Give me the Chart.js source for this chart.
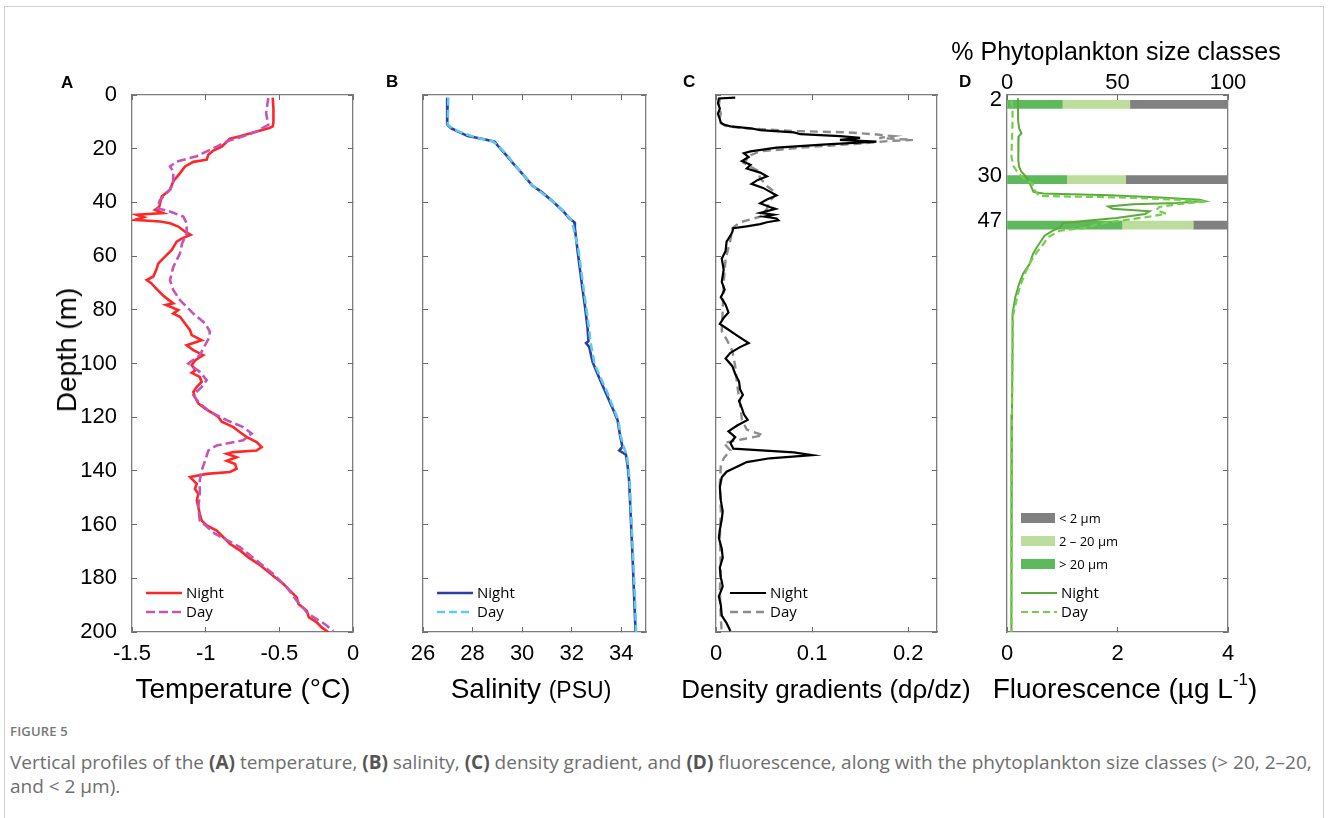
<!DOCTYPE html>
<html>
<head>
<meta charset="utf-8">
<script src="https://cdn.jsdelivr.net/npm/chart.js@4.4.0/dist/chart.umd.min.js"></script>
<style>
  html,body{margin:0;padding:0;background:#fff;}
  body{width:1328px;height:818px;overflow:hidden;position:relative;font-family:"Liberation Sans",Arial,sans-serif;}
  #frame{position:absolute;left:4px;top:6px;width:1318px;height:900px;border:1px solid #d2d2d2;}
  canvas.panel{position:absolute;}
  .t{position:absolute;white-space:nowrap;color:#000;line-height:1;transform:translate(-50%,-50%);font-size:28px;}
  .lab{position:absolute;font-weight:bold;font-size:17px;line-height:1;color:#000;}
  .sup{font-size:17px;position:relative;top:-0.75em;}
  #figlabel{position:absolute;left:10px;top:723px;font-family:"Open Sans",sans-serif;font-size:13px;font-weight:600;line-height:16px;color:#777;letter-spacing:0.2px;}
  #caption{position:absolute;left:10px;top:750px;font-family:"Open Sans",sans-serif;font-size:19px;line-height:24px;color:#6e6e6e;white-space:nowrap;}
  #caption b{color:#555;font-weight:700;}
</style>
</head>
<body>
<div id="frame"></div>
<canvas id="cA" class="panel"></canvas>
<canvas id="cB" class="panel"></canvas>
<canvas id="cC" class="panel"></canvas>
<canvas id="cD" class="panel"></canvas>

<div class="lab" style="left:61px;top:74px">A</div>
<div class="lab" style="left:386px;top:73px">B</div>
<div class="lab" style="left:683px;top:73px">C</div>
<div class="lab" style="left:959px;top:73px">D</div>

<div class="t" style="left:67px;top:350px;transform:translate(-50%,-50%) rotate(-90deg);">Depth (m)</div>
<div class="t" style="left:243px;top:689px;">Temperature (°C)</div>
<div class="t" style="left:531px;top:689px;">Salinity <span style="font-size:23px">(PSU)</span></div>
<div class="t" style="left:826px;top:689px;font-size:26px;">Density gradients (dρ/dz)</div>
<div class="t" style="left:1125px;top:689px;">Fluorescence (µg L<span class="sup">-1</span>)</div>
<div class="t" style="left:1116px;top:51px;font-size:25px;">% Phytoplankton size classes</div>

<div id="figlabel">FIGURE 5</div>
<div id="caption">Vertical profiles of the <b>(A)</b> temperature, <b>(B)</b> salinity, <b>(C)</b> density gradient, and <b>(D)</b> fluorescence, along with the phytoplankton size classes (&gt; 20, 2–20,<br>and &lt; 2 µm).</div>

<script>
// ================= DATA =================
const depthTicks = [0, 20, 40, 60, 80, 100, 120, 140, 160, 180, 200];
const tempTicks  = [-1.5, -1, -0.5, 0];
const salTicks   = [26, 28, 30, 32, 34];
const densTicks  = [0, 0.1, 0.2];
const fluoTicks  = [0, 2, 4];
const pctTicks   = [0, 50, 100];

// (A) Temperature
const tempNightDepth = [1, 5, 10, 11.7, 12.3, 13.6, 15.4, 16.3, 19.2, 20.7,
  22.3, 24.1, 24.9, 26.6, 29.1, 32.2, 35.3, 37.8, 41.6, 42.8,
  44.0, 44.6, 45.5, 46.5, 47.1, 47.8, 49.0, 50.9, 52.1, 53.4,
  54.6, 57.7, 60.2, 62.7, 65.2, 67.6, 68.9, 70.1, 72.6, 75.1,
  77.6, 78.2, 80.1, 81.4, 82.6, 85.1, 87.6, 89.4, 91.3, 93.2,
  95.0, 96.9, 98.8, 100.6, 102.5, 103.5, 105.0, 106.9, 108.7, 110.6,
  112.5, 114.9, 116.8, 118.7, 119.9, 121.7, 123.7, 125.6, 127.4, 129.3,
  131.1, 132.4, 133.0, 133.6, 134.9, 136.2, 137.4, 139.2, 140.4, 141.1,
  142.3, 143.5, 144.8, 146.7, 148.5, 151.0, 153.5, 156.0, 158.5, 160.3,
  162.2, 164.7, 167.2, 169.6, 172.2, 174.6, 177.1, 179.6, 182.1, 184.6,
  187.1, 189.6, 192.1, 194.5, 196.4, 198.3, 200.0];
const tempNight = [-0.545, -0.540, -0.540, -0.545, -0.567, -0.654, -0.767, -0.835, -0.891, -0.948,
  -0.982, -0.993, -1.084, -1.140, -1.174, -1.220, -1.242, -1.298, -1.315, -1.344,
  -1.288, -1.468, -1.420, -1.480, -1.310, -1.242, -1.186, -1.140, -1.102, -1.160,
  -1.197, -1.230, -1.276, -1.321, -1.336, -1.355, -1.400, -1.370, -1.327, -1.280,
  -1.220, -1.270, -1.186, -1.220, -1.174, -1.140, -1.106, -1.095, -1.027, -1.129,
  -1.084, -1.016, -1.070, -1.095, -1.070, -1.095, -1.040, -1.027, -1.060, -1.084,
  -1.073, -1.050, -1.004, -0.948, -0.914, -0.891, -0.812, -0.767, -0.721, -0.654,
  -0.620, -0.654, -0.812, -0.857, -0.790, -0.857, -0.800, -0.790, -0.835, -0.993,
  -1.106, -1.084, -1.060, -1.073, -1.050, -1.060, -1.050, -1.040, -1.027, -0.993,
  -0.925, -0.880, -0.835, -0.767, -0.710, -0.643, -0.586, -0.530, -0.473, -0.428,
  -0.382, -0.370, -0.314, -0.300, -0.246, -0.213, -0.168];
const tempDayDepth = [1.1, 6.7, 11.1, 13.6, 15.4, 17.3, 19.2, 20.7, 22.8, 24.8,
  26.6, 28.5, 32.2, 35.3, 39.1, 42.2, 43.4, 45.3, 47.8, 51.6,
  55.3, 59.0, 64.0, 69.0, 72.6, 76.4, 81.4, 85.1, 88.2, 90.7,
  93.2, 96.9, 100.0, 103.1, 106.2, 108.7, 111.8, 114.9, 118.0, 121.1,
  123.7, 126.1, 128.6, 130.5, 132.4, 136.2, 139.8, 143.5, 148.5, 153.5,
  158.5, 163.4, 168.4, 173.4, 178.4, 183.3, 188.3, 193.3, 197.1, 199.6];
const tempDay = [-0.575, -0.590, -0.575, -0.654, -0.745, -0.857, -0.925, -0.982, -1.061, -1.197,
  -1.242, -1.220, -1.220, -1.242, -1.310, -1.330, -1.242, -1.152, -1.129, -1.129,
  -1.160, -1.174, -1.220, -1.242, -1.220, -1.174, -1.084, -1.004, -0.971, -0.980,
  -1.004, -1.040, -1.118, -1.040, -0.993, -1.027, -1.084, -1.040, -0.971, -0.857,
  -0.745, -0.688, -0.745, -0.925, -0.982, -1.004, -1.027, -1.040, -1.040, -1.050,
  -1.040, -0.937, -0.767, -0.654, -0.541, -0.450, -0.382, -0.303, -0.190, -0.134];

// (B) Salinity
const salNightDepth = [1, 5, 11, 12.4, 13.9, 15.3, 16.4, 17.4, 18.9, 22.4,
  25.3, 29.6, 33.9, 36.0, 39.6, 43.1, 46.0, 47.4, 49.6, 58.1,
  65.3, 72.4, 79.6, 86.7, 91.7, 92.4, 93.9, 99.6, 105.3, 111.0,
  116.7, 121.0, 126.7, 131.0, 132.4, 133.9, 138.1, 143.9, 158.1, 172.4,
  186.7, 200];
const salNight = [27.00, 26.98, 26.97, 27.14, 27.48, 27.81, 28.42, 28.89, 29.02, 29.36,
  29.62, 30.03, 30.43, 30.77, 31.23, 31.64, 31.91, 32.11, 32.13, 32.24,
  32.34, 32.44, 32.55, 32.64, 32.68, 32.58, 32.71, 32.85, 33.11, 33.38,
  33.65, 33.85, 33.95, 34.05, 33.92, 34.19, 34.26, 34.32, 34.39, 34.46,
  34.52, 34.58];
const salDayDepth = [1, 11, 12.6, 14.2, 16.0, 17.2, 19.0, 22.5, 26.0, 30.0,
  34.0, 36.5, 40.0, 43.5, 46.5, 48.5, 58, 65, 72, 80,
  87, 92, 100, 106, 111, 117, 121, 127, 131, 134,
  138, 144, 158, 172, 187, 200];
const salDay = [27.02, 27.00, 27.20, 27.60, 28.20, 28.80, 29.05, 29.40, 29.70, 30.08,
  30.45, 30.80, 31.28, 31.70, 31.98, 32.05, 32.28, 32.38, 32.48, 32.60,
  32.70, 32.76, 32.92, 33.20, 33.45, 33.70, 33.88, 33.98, 34.10, 34.22,
  34.28, 34.34, 34.41, 34.48, 34.55, 34.60];

// (C) Density gradient
const densNightDepth = [1, 1.3, 3, 5, 7, 9, 10.3, 11.0, 11.7, 12.4,
  13.1, 13.9, 14.6, 15.3, 16.0, 16.7, 17.4, 18.4, 19.6, 21.0,
  21.7, 23.1, 24.6, 26.0, 27.4, 28.9, 30.3, 31.7, 33.1, 34.6,
  36.0, 37.4, 38.9, 40.3, 41.7, 42.4, 43.9, 44.6, 45.3, 46.0,
  46.7, 47.4, 48.1, 48.9, 49.6, 51.0, 52.4, 54.6, 58.1, 61.0,
  65.0, 69.6, 72.5, 75.3, 78.1, 81.0, 83.0, 85.3, 86.7, 89.6,
  92.4, 93.9, 96.0, 98.1, 101.0, 103.9, 106.7, 109.6, 111.7, 113.9,
  116.7, 118.9, 121.0, 123.1, 125.3, 127.4, 129.6, 131.7, 133.1, 134.1,
  135.3, 136.7, 138.1, 140.3, 142.4, 146, 151, 155, 158, 162,
  165, 169, 172.4, 176, 179.6, 183, 186.7, 190, 193.9, 196.7,
  199.6];
const densNight = [0.020, 0.003, 0.002, 0.004, 0.002, 0.004, 0.005, 0.008, 0.015, 0.036,
  0.046, 0.081, 0.088, 0.129, 0.150, 0.129, 0.167, 0.115, 0.063, 0.036,
  0.029, 0.034, 0.027, 0.036, 0.032, 0.046, 0.053, 0.043, 0.037, 0.049,
  0.056, 0.063, 0.053, 0.046, 0.056, 0.062, 0.046, 0.060, 0.050, 0.063,
  0.065, 0.053, 0.046, 0.032, 0.018, 0.017, 0.015, 0.011, 0.010, 0.006,
  0.008, 0.006, 0.009, 0.005, 0.010, 0.013, 0.008, 0.004, 0.010, 0.022,
  0.034, 0.025, 0.015, 0.010, 0.017, 0.020, 0.024, 0.025, 0.028, 0.024,
  0.027, 0.029, 0.033, 0.022, 0.013, 0.020, 0.015, 0.018, 0.081, 0.100,
  0.056, 0.032, 0.024, 0.011, 0.006, 0.004, 0.005, 0.007, 0.006, 0.004,
  0.003, 0.006, 0.007, 0.004, 0.005, 0.007, 0.003, 0.005, 0.006, 0.011,
  0.015];
const densDayDepth = [1, 4, 7, 10, 11.5, 12.4, 13.4, 13.9, 14.6, 15.3,
  16.0, 16.7, 17.1, 18.1, 19.6, 21.0, 22.4, 25.3, 28.1, 31.0,
  33.9, 36.7, 39.6, 42.4, 45.3, 47.4, 49.6, 54, 61, 70,
  80, 88, 91, 95.3, 101, 108, 115, 121, 124.6, 126.7,
  128.1, 129.6, 132.4, 135.3, 138.1, 145, 155, 165, 175, 185,
  195, 200];
const densDay = [0.004, 0.003, 0.005, 0.003, 0.010, 0.029, 0.080, 0.136, 0.164, 0.184,
  0.170, 0.205, 0.181, 0.150, 0.088, 0.046, 0.036, 0.029, 0.043, 0.046,
  0.053, 0.063, 0.056, 0.053, 0.046, 0.025, 0.017, 0.015, 0.010, 0.008,
  0.007, 0.006, 0.011, 0.017, 0.020, 0.022, 0.025, 0.027, 0.032, 0.049,
  0.029, 0.008, 0.015, 0.008, 0.005, 0.004, 0.005, 0.004, 0.005, 0.004,
  0.005, 0.006];

// (D) Fluorescence
const fluoNightDepth = [1.2, 4.3, 9.3, 12.4, 14.3, 15.5, 19.2, 24.3, 26.8, 28.6,
  29.9, 31.7, 34.2, 36.1, 36.7, 37.3, 38.2, 39.0, 39.5, 40.2,
  40.7, 41.5, 42.4, 43.3, 44.3, 45.8, 46.8, 47.7, 49.3, 50.5,
  52.4, 54.3, 56.7, 59.2, 62.9, 66.6, 70.3, 75.3, 81.5, 93.9,
  118.8, 143.7, 168.6, 200];
const fluoNight = [0.20, 0.20, 0.20, 0.22, 0.26, 0.21, 0.21, 0.20, 0.22, 0.26,
  0.32, 0.39, 0.44, 0.48, 0.66, 1.86, 2.76, 3.49, 3.58, 3.07,
  2.28, 1.83, 1.91, 2.58, 2.50, 1.98, 1.44, 1.01, 0.96, 0.83,
  0.68, 0.62, 0.54, 0.47, 0.41, 0.29, 0.22, 0.15, 0.10, 0.10,
  0.09, 0.08, 0.08, 0.08];
const fluoDayDepth = [1.8, 5.6, 10.5, 16.7, 22.9, 26.6, 29.1, 31.7, 33.0, 35.5,
  37.6, 38.2, 39.0, 39.6, 40.7, 41.7, 42.9, 44.2, 45.5, 47.3,
  48.6, 49.5, 50.5, 53.0, 55.5, 58.0, 61.7, 66.7, 71.6, 76.6,
  82, 95, 120, 145, 170, 200];
const fluoDay = [0.08, 0.10, 0.10, 0.09, 0.08, 0.12, 0.20, 0.34, 0.46, 0.50,
  0.58, 2.16, 3.07, 3.61, 3.07, 2.76, 2.70, 2.88, 2.52, 1.86,
  1.56, 1.44, 0.96, 0.74, 0.66, 0.56, 0.44, 0.32, 0.23, 0.17,
  0.11, 0.10, 0.09, 0.08, 0.08, 0.08];

// Phytoplankton size classes (%)
const sizeDepths = [2, 30, 47];
const pctMicro = [25.0, 27.0, 52.0];   // > 20 µm
const pctNano  = [30.6, 26.7, 32.3];   // 2 – 20 µm
const pctPico  = [44.4, 46.3, 15.7];   // < 2 µm

// ================= LAYOUT / STYLE =================
Chart.defaults.font.family = "'Liberation Sans', Arial, sans-serif";
const PT = 95, PH = 537;
const PAD = { l: 60, r: 30, t: 40, b: 45 };

function placeCanvas(id, left, width) {
  const c = document.getElementById(id);
  c.width = width + PAD.l + PAD.r;
  c.height = PH + PAD.t + PAD.b;
  c.style.left = (left - PAD.l) + 'px';
  c.style.top = (PT - PAD.t) + 'px';
  c.style.width = c.width + 'px';
  c.style.height = c.height + 'px';
  return c;
}

function scale(position, min, max, tickVals, o) {
  o = o || {};
  const horiz = position === 'top' || position === 'bottom';
  const s = {
    type: 'linear', axis: horiz ? 'x' : 'y', position, min, max,
    reverse: !horiz, offset: false,
    grid: { display: true, drawOnChartArea: false, drawTicks: !o.noTicks, tickLength: -5,
            color: '#6a6a6a', tickColor: '#6a6a6a', lineWidth: 1, tickWidth: 1 },
    border: { display: true, color: '#7c7c7c', width: 1.3 },
    ticks: { display: !!o.labels, padding: o.pad || 0, color: '#000', font: { size: 22 },
             autoSkip: false, maxRotation: 0, minRotation: 0, callback: v => String(v) },
    afterBuildTicks: sc => { sc.ticks = tickVals.map(v => ({ value: v })); },
    afterFit: sc => {
      if (position === 'left') sc.width = PAD.l;
      else if (position === 'right') sc.width = PAD.r;
      else if (position === 'top') sc.height = PAD.t;
      else sc.height = PAD.b;
    }
  };
  if (o.stacked) s.stacked = true;
  return s;
}

const pts = (depths, vals) => vals.map((v, i) => ({ x: v, y: depths[i] }));

function lineDS(label, depths, vals, color, width, dash, order) {
  return { type: 'line', label, data: pts(depths, vals), indexAxis: 'y',
           borderColor: color, backgroundColor: color, borderWidth: width,
           borderDash: dash || [], pointRadius: 0, tension: 0, fill: false,
           xAxisID: 'x', yAxisID: 'y', order };
}

function barDS(label, vals, color) {
  return { type: 'bar', label, indexAxis: 'y', stack: 'size',
           data: vals.map((v, i) => ({ x: v, y: sizeDepths[i] })),
           backgroundColor: color, borderWidth: 0, barThickness: 8,
           xAxisID: 'xTop', yAxisID: 'y', order: 3 };
}

// legend drawn inside the plot, from dataset labels/styles
const insideLegend = {
  id: 'insideLegend',
  afterDatasetsDraw(chart, args, opts) {
    if (!opts || !opts.items) return;
    const ctx = chart.ctx, a = chart.chartArea;
    ctx.save();
    opts.items.forEach(it => {
      const ds = chart.data.datasets[it.ds];
      const y = a.bottom - it.dy;
      const x0 = a.left + 14, len = it.len || 36;
      if (ds.type === 'bar') {
        ctx.fillStyle = ds.backgroundColor;
        ctx.fillRect(x0, y - 5, len, 10);
      } else {
        ctx.strokeStyle = ds.borderColor;
        ctx.lineWidth = ds.borderWidth;
        ctx.setLineDash(ds.borderDash || []);
        ctx.beginPath(); ctx.moveTo(x0, y); ctx.lineTo(x0 + len, y); ctx.stroke();
        ctx.setLineDash([]);
      }
      ctx.fillStyle = '#000';
      ctx.font = it.font || '15px "Open Sans"';
      ctx.textBaseline = 'middle';
      ctx.fillText(ds.label, x0 + len + 4, y + 1);
    });
    ctx.restore();
  }
};

function options(scales, legendItems) {
  return {
    responsive: false, animation: false, events: [], devicePixelRatio: 1,
    layout: { padding: 0 },
    scales,
    plugins: { legend: { display: false }, tooltip: { enabled: false },
               insideLegend: { items: legendItems } }
  };
}

const lineLegend = [{ ds: 0, dy: 39 }, { ds: 1, dy: 20 }];

// ---- Panel A
new Chart(placeCanvas('cA', 132, 221), {
  type: 'line',
  data: { datasets: [
    lineDS('Night', tempNightDepth, tempNight, '#ff2626', 2.6, null, 2),
    lineDS('Day', tempDayDepth, tempDay, '#c455b8', 2.6, [9, 4], 1)
  ] },
  options: options({
    x: scale('bottom', -1.5, 0, tempTicks, { labels: true, pad: 14 }),
    xTop: scale('top', -1.5, 0, tempTicks),
    y: scale('left', 0, 200, depthTicks, { labels: true, pad: 20 }),
    yR: scale('right', 0, 200, depthTicks)
  }, lineLegend),
  plugins: [insideLegend]
});

// ---- Panel B
new Chart(placeCanvas('cB', 423, 223), {
  type: 'line',
  data: { datasets: [
    lineDS('Night', salNightDepth, salNight, '#2c3fa6', 2.6, null, 2),
    lineDS('Day', salDayDepth, salDay, '#5ecbea', 2.6, [8, 4], 1)
  ] },
  options: options({
    x: scale('bottom', 26, 35, salTicks, { labels: true, pad: 14 }),
    xTop: scale('top', 26, 35, salTicks),
    y: scale('left', 0, 200, depthTicks),
    yR: scale('right', 0, 200, depthTicks)
  }, lineLegend),
  plugins: [insideLegend]
});

// ---- Panel C
new Chart(placeCanvas('cC', 716, 221), {
  type: 'line',
  data: { datasets: [
    lineDS('Night', densNightDepth, densNight, '#000000', 2.2, null, 1),
    lineDS('Day', densDayDepth, densDay, '#8c8c8c', 2.4, [8, 5], 2)
  ] },
  options: options({
    x: scale('bottom', 0, 0.23, densTicks, { labels: true, pad: 14 }),
    xTop: scale('top', 0, 0.23, densTicks),
    y: scale('left', 0, 200, depthTicks),
    yR: scale('right', 0, 200, depthTicks)
  }, lineLegend),
  plugins: [insideLegend]
});

// ---- Panel D
new Chart(placeCanvas('cD', 1007, 221), {
  type: 'line',
  data: { datasets: [
    lineDS('Night', fluoNightDepth, fluoNight, '#5daa3a', 2.0, null, 2),
    lineDS('Day', fluoDayDepth, fluoDay, '#70d04c', 2.2, [7, 4], 1),
    barDS('> 20 µm', pctMicro, '#5eb85c'),
    barDS('2 – 20 µm', pctNano, '#bcdd9b'),
    barDS('< 2 µm', pctPico, '#808080')
  ] },
  options: options({
    x: scale('bottom', 0, 4, fluoTicks, { labels: true, pad: 14 }),
    xTop: scale('top', 0, 100, pctTicks, { labels: true, pad: 4, stacked: true }),
    y: scale('left', 0, 200, sizeDepths, { labels: true, pad: 5, noTicks: true }),
    yR: scale('right', 0, 200, depthTicks)
  }, [
    { ds: 4, dy: 114, len: 34, font: '13px "Open Sans"' },
    { ds: 3, dy: 91, len: 34, font: '13px "Open Sans"' },
    { ds: 2, dy: 68, len: 34, font: '13px "Open Sans"' },
    { ds: 0, dy: 39 },
    { ds: 1, dy: 20 }
  ]),
  plugins: [insideLegend]
});
</script>
</body>
</html>
